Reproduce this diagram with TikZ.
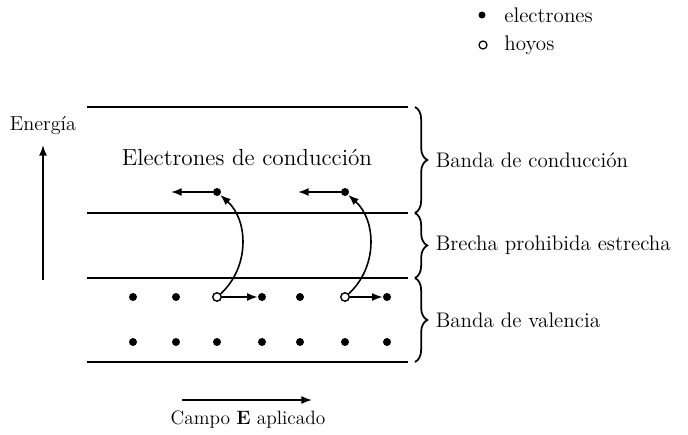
\documentclass[tikz,border=0pt]{standalone}
\usepackage{fontspec}
\usetikzlibrary{positioning,decorations.pathreplacing,arrows.meta}

\begin{document}
\begin{tikzpicture}[x=0.02cm,y=-0.02cm,
  elec/.style={circle,fill=black,inner sep=0pt,minimum size=0.16cm},
  hole/.style={circle,draw=black,fill=white,line width=0.8pt,inner sep=0pt,minimum size=0.17cm},
  band/.style={line width=1pt},
  bracket/.style={decorate,decoration={brace,amplitude=7pt},line width=1pt},
  lbl/.style={font=\fontsize{12}{14}\selectfont},
  flecha/.style={-{Latex[length=6pt,width=4.5pt]},line width=0.9pt}]

\useasboundingbox (0,0) rectangle (688,435);

% ============================
% BANDS
% ============================

\draw[band] (87,107) -- (408,107);
\draw[band] (87,213) -- (408,213);
\draw[band] (87,278) -- (408,278);
\draw[band] (87,362) -- (408,362);

\node[lbl,font=\fontsize{13.2}{16}\selectfont] (titcond) at (247,158) {Electrones de conducción};

% ============================
% BRACES
% ============================

\draw[bracket] (415,107) -- node[lbl,right=8pt] (bcond) {Banda de conducción} (415,213);
\draw[bracket] (415,213) -- node[lbl,right=8pt] (brecha) {Brecha prohibida estrecha} (415,278);
\draw[bracket] (415,278) -- node[lbl,right=8pt] (bval) {Banda de valencia} (415,362);

% ============================
% ELECTRONS AND HOLES
% ============================

% valence band, lower row
\foreach \x [count=\i] in {133,176,217,262,300,345,387} {
  \node[elec] (vb\i) at (\x,342) {};
}
% valence band, upper row
\foreach \x/\n in {133/va1,176/va2,262/va4,300/va5,387/va7} {
  \node[elec] (\n) at (\x,297) {};
}
\node[hole] (h1) at (217,297) {};
\node[hole] (h2) at (345,297) {};

% conduction band
\node[elec] (c1) at (217,192) {};
\node[elec] (c2) at (345,192) {};
\coordinate (c1end) at (171,192);
\coordinate (c2end) at (298,192);

\draw[flecha] (c1) -- (c1end);
\draw[flecha] (c2) -- (c2end);

% jumps across the gap
\draw[flecha] (h1) to[out=42,in=-42] (c1);
\draw[flecha] (h2) to[out=42,in=-42] (c2);

% holes move with the field
\draw[flecha] (h1) -- (va4);
\draw[flecha] (h2) -- (va7);

% ============================
% ENERGY AXIS AND FIELD
% ============================

\node[lbl,font=\fontsize{11.5}{13}\selectfont] (energia) at (43,126) {Energía};
\coordinate (ebot) at (43,280);
\coordinate (etop) at (43,145);
\draw[flecha] (ebot) -- (etop);

\coordinate (cizq) at (182,400);
\coordinate (cder) at (312,400);
\draw[flecha] (cizq) -- (cder);
\node[lbl,font=\fontsize{11}{13}\selectfont] (campo) at (248,420) {Campo \textbf{E} aplicado};

% ============================
% LEGEND
% ============================

\node[elec,minimum size=0.14cm] (lege) at (482,15) {};
\node[lbl,right=7pt of lege] (txte) {electrones};
\node[hole,minimum size=0.16cm,line width=0.7pt] (legh) at (483,45) {};
\node[lbl,right=6pt of legh] (txth) {hoyos};

\end{tikzpicture}
\end{document}
